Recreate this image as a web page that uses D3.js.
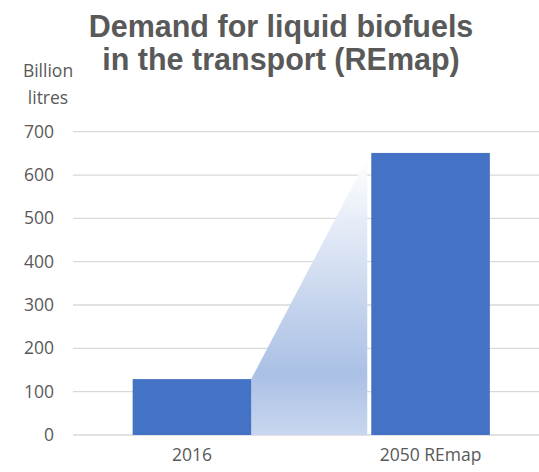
<!DOCTYPE html>
<html>
<head>
<meta charset="utf-8">
<script src="https://cdn.jsdelivr.net/npm/d3@7"></script>
<style>
  body { margin: 0; background: #fff; }
  text { fill: #595959; }
</style>
</head>
<body>
<div id="chart"></div>
<script>
// chart data
var categories = ["2016", "2050 REmap"];
var demand = [129, 651];
var yTicks = [0, 100, 200, 300, 400, 500, 600, 700];
var titleLines = ["Demand for liquid biofuels", "in the transport (REmap)"];
var unitLines = ["Billion", "litres"];

var svgWidth = 539;
var svgHeight = 472;

var svg = d3.select("#chart")
  .append("svg")
  .attr("width", svgWidth)
  .attr("height", svgHeight);

// gradient for the growth wedge
var grad = svg.append("defs").append("linearGradient")
  .attr("id", "wedge")
  .attr("x1", 0).attr("y1", 0).attr("x2", 0).attr("y2", 1);
grad.append("stop").attr("offset", "0%").attr("stop-color", "#ffffff");
grad.append("stop").attr("offset", "78%").attr("stop-color", "#aac0e5");
grad.append("stop").attr("offset", "100%").attr("stop-color", "#c9d7ef");

var x = d3.scaleBand()
  .domain(categories)
  .range([73, 549.5])
  .paddingInner(0.503)
  .paddingOuter(0.25);

var y = d3.scaleLinear()
  .domain([0, 700])
  .range([435, 131.7]);

// gridlines
svg.append("g")
  .selectAll("line")
  .data(yTicks)
  .enter()
  .append("line")
  .attr("x1", 73)
  .attr("x2", svgWidth)
  .attr("y1", d => y(d))
  .attr("y2", d => y(d))
  .attr("stroke", "#d9d9d9")
  .attr("stroke-width", 1.3);

// y axis labels
var leftAxis = d3.axisLeft(y).tickValues(yTicks).tickSize(0).tickPadding(0);
var yAxis = svg.append("g")
  .attr("transform", "translate(54,0)")
  .call(leftAxis);
yAxis.select(".domain").remove();
yAxis.selectAll("text")
  .attr("font-family", "Open Sans")
  .attr("font-size", 17.5)
  .attr("fill", "#595959");

// wedge between the two bars
var x0 = x(categories[0]) + x.bandwidth();
var x1 = x(categories[1]) - 4;
var wedge = [[x0, y(0)], [x0, y(demand[0])], [x1, y(demand[1]) + 5], [x1, y(0)]];
svg.append("path")
  .attr("d", d3.line()(wedge) + "Z")
  .attr("fill", "url(#wedge)");

// bars
svg.selectAll("rect.bar")
  .data(demand)
  .enter()
  .append("rect")
  .attr("class", "bar")
  .attr("x", (d, i) => x(categories[i]))
  .attr("y", d => y(d))
  .attr("width", x.bandwidth())
  .attr("height", d => y(0) - y(d))
  .attr("fill", "#4472c4");

// x labels
var bottomAxis = d3.axisBottom(x).tickSize(0).tickPadding(0);
var xAxis = svg.append("g")
  .attr("transform", "translate(0,449)")
  .call(bottomAxis);
xAxis.select(".domain").remove();
xAxis.selectAll("text")
  .attr("font-family", "Open Sans")
  .attr("font-size", 17.5)
  .attr("fill", "#595959");

// unit label
svg.append("text")
  .attr("text-anchor", "middle")
  .attr("font-family", "Open Sans")
  .attr("font-size", 17.5)
  .selectAll("tspan")
  .data(unitLines)
  .enter()
  .append("tspan")
  .attr("x", 48)
  .attr("y", (d, i) => 77 + i * 27)
  .text(d => d);

// title
svg.append("text")
  .attr("text-anchor", "middle")
  .attr("font-family", "Liberation Sans, Arial, sans-serif")
  .attr("font-weight", "bold")
  .attr("font-size", 30.5)
  .selectAll("tspan")
  .data(titleLines)
  .enter()
  .append("tspan")
  .attr("x", 281)
  .attr("y", (d, i) => 37 + i * 33)
  .text(d => d);
</script>
</body>
</html>
